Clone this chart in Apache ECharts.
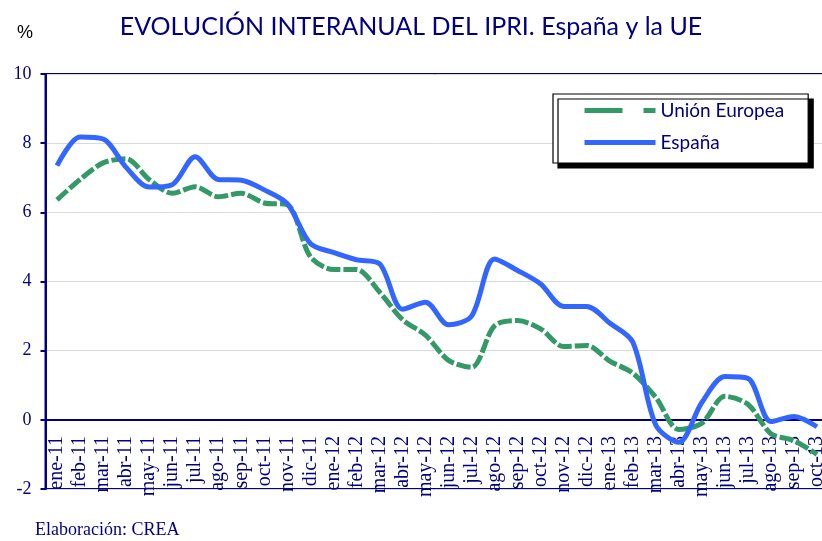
<!DOCTYPE html>
<html>
<head>
<meta charset="utf-8">
<script src="https://cdn.jsdelivr.net/npm/echarts@6/dist/echarts.min.js"></script>
<style>
  html, body { margin: 0; padding: 0; background: #fff; }
  #chart { width: 822px; height: 541px; }
</style>
</head>
<body>
<div id="chart"></div>
<script>
// meses (ene-11 .. oct-13)
const months = [
  "ene-11", "feb-11", "mar-11", "abr-11", "may-11", "jun-11", "jul-11", "ago-11", "sep-11", "oct-11", "nov-11", "dic-11",
  "ene-12", "feb-12", "mar-12", "abr-12", "may-12", "jun-12", "jul-12", "ago-12", "sep-12", "oct-12", "nov-12", "dic-12",
  "ene-13", "feb-13", "mar-13", "abr-13", "may-13", "jun-13", "jul-13", "ago-13", "sep-13", "oct-13"
];
// variación interanual IPRI, %
const ueValues = [
  6.36, 6.95, 7.43, 7.55, 6.95, 6.55, 6.74, 6.45, 6.55, 6.27, 6.22, 4.72,
  4.35, 4.35, 3.7, 2.9, 2.45, 1.72, 1.52, 2.72, 2.87, 2.63, 2.12, 2.15,
  1.7, 1.35, 0.65, -0.28, -0.1, 0.68, 0.45, -0.4, -0.6, -1.0
];
const espValues = [
  7.35, 8.18, 8.12, 7.3, 6.73, 6.8, 7.61, 6.95, 6.93, 6.65, 6.25, 5.1,
  4.84, 4.63, 4.52, 3.2, 3.4, 2.75, 3.0, 4.65, 4.32, 3.93, 3.28, 3.28,
  2.8, 2.25, -0.15, -0.65, 0.5, 1.25, 1.2, -0.05, 0.1, -0.2
];
const yTicks = [-2, 0, 2, 4, 6, 8, 10];

const navy = "#000080";
const serif = "'Liberation Serif', 'DejaVu Serif', serif";
const sans = "Lato, 'Noto Sans', sans-serif";

const chart = echarts.init(document.getElementById("chart"));

const option = {
  animation: false,
  backgroundColor: "#fff",
  title: {
    text: "EVOLUCIÓN INTERANUAL DEL IPRI. España y la UE",
    left: "center",
    top: 9,
    textStyle: {
      color: navy,
      fontFamily: sans,
      fontSize: 25,
      fontWeight: "normal",
    },
  },
  graphic: [
    {
      type: "text",
      left: 17,
      top: 24,
      style: { text: "%", fill: "#000", font: "18px 'Liberation Sans', Arial, sans-serif" },
    },
    {
      type: "text",
      left: 35,
      top: 521,
      style: { text: "Elaboración: CREA", fill: navy, font: "18px " + serif },
    },
  ],
  legend: {
    orient: "vertical",
    left: 553,
    top: 94,
    padding: [7, 24, 11, 29],
    itemWidth: 71,
    itemHeight: 14,
    itemGap: 13,
    backgroundColor: "#fff",
    borderColor: "#000",
    borderWidth: 1.2,
    borderRadius: 0,
    shadowColor: "#000",
    shadowBlur: 0,
    shadowOffsetX: 5,
    shadowOffsetY: 5,
    itemStyle: { opacity: 0 },
    textStyle: { color: navy, fontFamily: sans, fontSize: 19 },
    data: [
      { name: "Unión Europea", lineStyle: { type: [38, 21], width: 5 } },
      { name: "España", lineStyle: { width: 5 } },
    ],
  },
  grid: {
    left: 45.5,
    right: -6.5,
    top: 74,
    bottom: 52,
    outerBoundsMode: "none",
    containLabel: false,
    show: true,
    borderColor: navy,
    borderWidth: 2,
  },
  xAxis: {
    type: "category",
    data: months,
    boundaryGap: true,
    position: "bottom",
    // eje de categorías sobre el 0
    offset: -69,
    axisLine: { onZero: false, lineStyle: { color: navy, width: 2 } },
    axisTick: { length: 6, lineStyle: { color: navy, width: 2 } },
    axisLabel: {
      rotate: 90,
      interval: 0,
      margin: 16,
      color: navy,
      fontFamily: serif,
      fontSize: 20,
    },
    splitLine: { show: false },
  },
  yAxis: {
    type: "value",
    min: -2,
    max: 10,
    interval: 2,
    axisLine: { show: true, lineStyle: { color: navy, width: 2 } },
    axisTick: { show: true, length: 5, lineStyle: { color: navy, width: 2 } },
    axisLabel: {
      margin: 14,
      color: navy,
      fontFamily: serif,
      fontSize: 18,
      formatter: (v) => (yTicks.includes(v) ? String(v) : ""),
    },
    splitLine: { lineStyle: { color: "#d9d9d9", width: 1 } },
  },
  series: [
    {
      name: "Unión Europea",
      type: "line",
      data: ueValues,
      smooth: 0.3,
      symbol: "none",
      color: "#339966",
      lineStyle: { width: 5, type: [14, 3], color: "#339966" },
      z: 2,
    },
    {
      name: "España",
      type: "line",
      data: espValues,
      smooth: 0.3,
      symbol: "none",
      color: "#3366ff",
      lineStyle: { width: 5, color: "#3366ff" },
      z: 3,
    },
  ],
};

chart.setOption(option);
</script>
</body>
</html>
